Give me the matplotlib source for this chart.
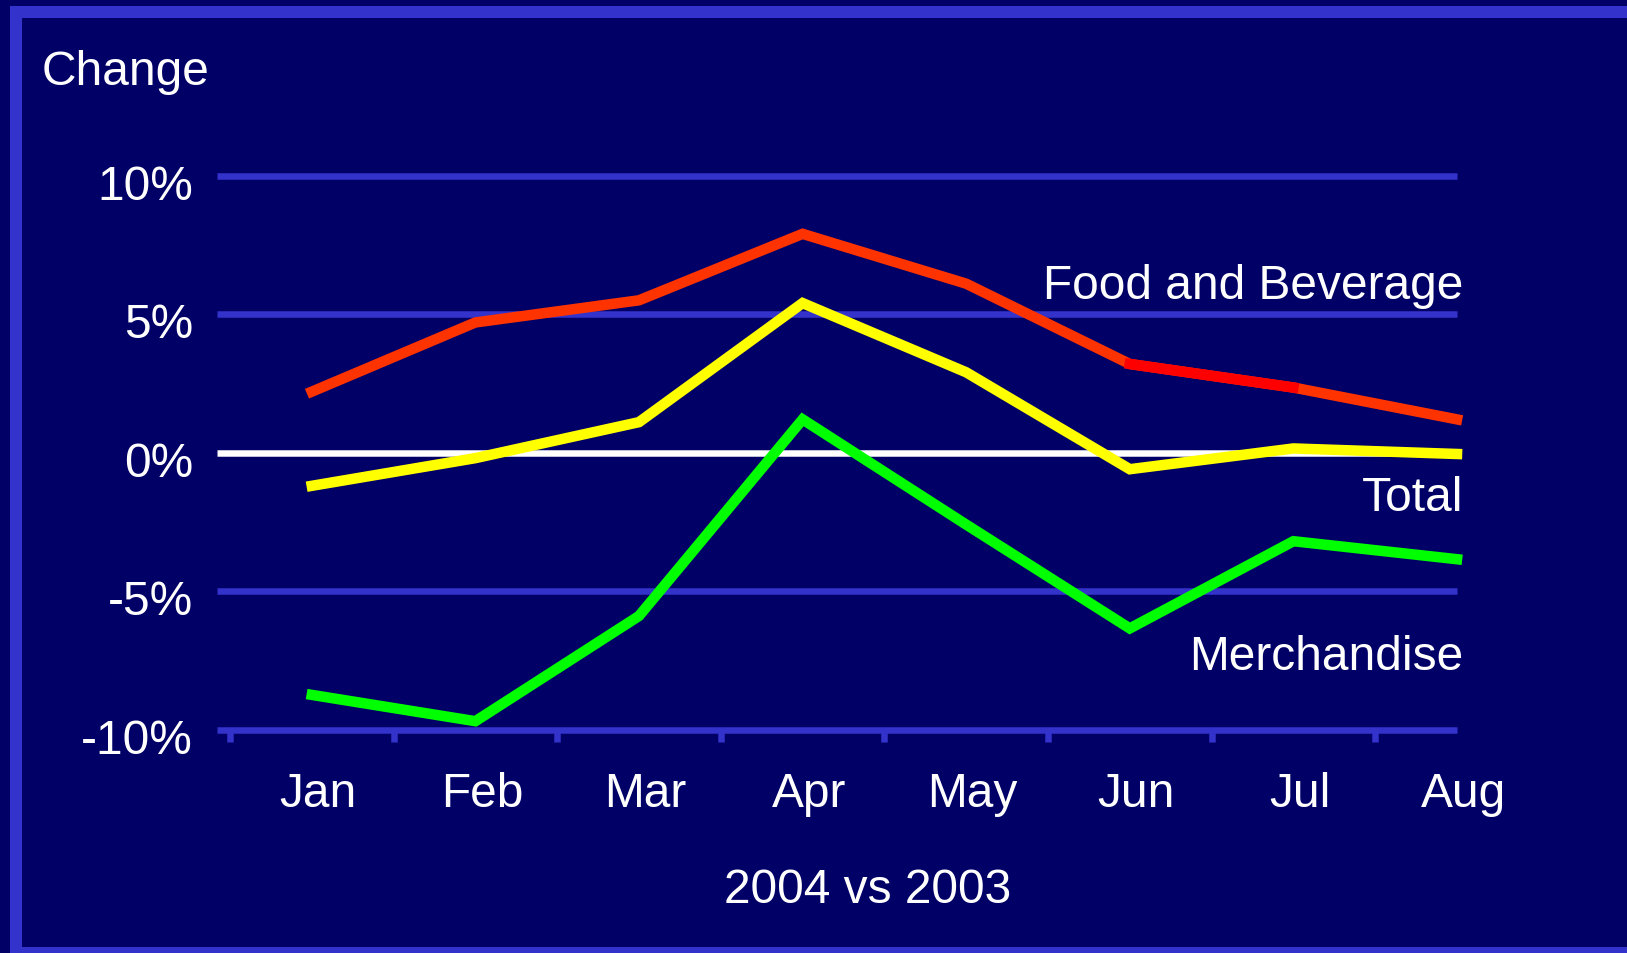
import numpy as np
import matplotlib
matplotlib.use('Agg')
import matplotlib.pyplot as plt
from matplotlib.patches import Rectangle

# Monthly change, 2004 vs 2003 (%)
months = ["Jan", "Feb", "Mar", "Apr", "May", "Jun", "Jul", "Aug"]
food_bev = [2.2, 4.7, 5.5, 7.9, 6.1, 3.2, 2.35, 1.2]
total = [-1.2, -0.2, 1.1, 5.4, 2.9, -0.6, 0.15, -0.05]
merch = [-8.75, -9.7, -5.9, 1.2, -2.6, -6.35, -3.2, -3.85]
y_ticks = [10, 5, 0, -5, -10]
y_labels = ["10%", "5%", "0%", "-5%", "-10%"]

BG = "#000066"
FRAME = "#3333CC"
FONT = "Liberation Sans"
FS = 34.5

plt.rcParams['font.family'] = [FONT, 'DejaVu Sans']

W, H, DPI = 1627, 954, 100
px = 72 / DPI  # points per pixel
fig = plt.figure(figsize=(W / DPI, H / DPI), dpi=DPI, facecolor=BG)

# slide border
fig.patches.append(Rectangle((16 / W, 0), (1629 - 16) / W, 941 / H,
                             transform=fig.transFigure, fill=False,
                             edgecolor=FRAME, linewidth=12 * px,
                             clip_on=False))

ax = fig.add_axes([230 / W, 1 - 730.5 / H, (1457 - 230) / W, (730.5 - 176.7) / H])
ax.set_facecolor(BG)
x = np.arange(len(months))
ax.set_xlim(-0.5, 7.0)
ax.set_ylim(-10, 10)
for s in ax.spines.values():
    s.set_visible(False)

# gridlines, zero line in white
for yv in y_ticks:
    col = "white" if yv == 0 else FRAME
    ax.hlines(yv, -0.58, 7.0, color=col, linewidth=6.5 * px, clip_on=False, zorder=1)

# category boundary ticks under the axis
ax.set_xticks(np.arange(-0.5, 7.0, 1.0))
ax.set_xticklabels([])
ax.tick_params(axis='x', length=12 * px, width=6.5 * px, color=FRAME, direction='out')
ax.set_yticks([])

for i, m in enumerate(months):
    ax.text(x[i] + 0.04, -11.5, m, ha='center', va='top',
            fontsize=FS, color='white')

for yv, lab in zip(y_ticks, y_labels):
    ax.text(-0.5 - 37 / 163.5, yv - 0.2, lab, ha='right', va='center_baseline',
            fontsize=FS, color='white')

lw = 10.5 * px
ax.plot(x, food_bev, color="#FF3300", linewidth=lw, solid_joinstyle='miter',
        clip_on=False, zorder=3)
ax.plot(x[5:7], food_bev[5:7], color="#FF0000", linewidth=lw, clip_on=False, zorder=3)
ax.plot(x, total, color="#FFFF00", linewidth=lw, solid_joinstyle='miter',
        clip_on=False, zorder=4)
ax.plot(x, merch, color="#00FF00", linewidth=lw, solid_joinstyle='miter',
        clip_on=False, zorder=3)

# series labels
ax.text(7.04, 5.6, "Food and Beverage", ha='right', va='baseline',
        fontsize=FS, color='white')
ax.text(7.04, -2.07, "Total", ha='right', va='baseline', fontsize=FS, color='white')
ax.text(7.04, -7.8, "Merchandise", ha='right', va='baseline', fontsize=FS, color='white')

fig.text(41.5 / W, 1 - 85 / H, "Change", ha='left', va='baseline',
         fontsize=FS, color='white')
fig.text(868 / W, 1 - 903 / H, "2004 vs 2003", ha='center', va='baseline',
         fontsize=FS, color='white')

fig.savefig("out.png", dpi=DPI, facecolor=BG)
